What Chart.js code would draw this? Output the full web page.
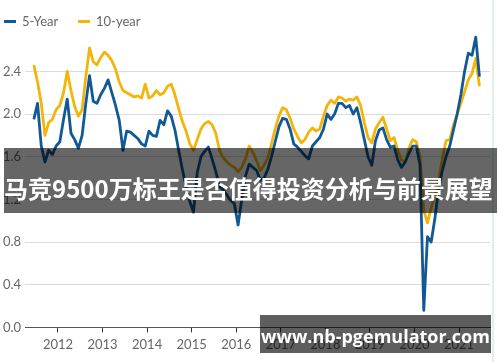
<!DOCTYPE html>
<html>
<head>
<meta charset="utf-8">
<script src="https://cdn.jsdelivr.net/npm/chart.js@4.4.0/dist/chart.umd.min.js"></script>
<style>
  body { margin: 0; background: #fff; }
  #wrap { position: relative; width: 500px; height: 362px; overflow: hidden; background: #fff; }
  #chart { position: absolute; left: 0; top: 0; }
  .legend { position: absolute; top: 13px; left: 0; font: 13px Lato, sans-serif; color: #666; }
  .legend span.item { position: absolute; white-space: nowrap; line-height: 16px; }
  .legend i { position: absolute; top: 7px; height: 3px; width: 12px; }
  .edge { position: absolute; left: 492px; top: 0; width: 2px; height: 362px; background: #e2f1e5; }
  .banner { position: absolute; left: 4px; top: 148px; width: 493px; height: 65px; background: rgba(0,0,0,0.6); }
  .banner span { position: absolute; left: 0; top: 22px; line-height: 25px; font: bold 24px "Noto Sans CJK SC", sans-serif; color: #fff; white-space: nowrap; }
  .mark { position: absolute; left: 260px; top: 315px; width: 231px; height: 38px; background: rgba(0,0,0,0.63);
          color: #fff; font: bold 18px "Open Sans", sans-serif; text-align: center; line-height: 42px; }
</style>
</head>
<body>
<div id="wrap">
  <canvas id="chart" width="500" height="362"></canvas>
  <div class="legend" id="legend"></div>
  <div class="edge"></div>
  <div class="banner"><span>马竞9500万标王是否值得投资分析与前景展望</span></div>
  <div class="mark">www.nb-pgemulator.com</div>
</div>
<script>
const months = [
  '2011-06','2011-07','2011-08','2011-09','2011-10','2011-11','2011-12',
  '2012-01','2012-02','2012-03','2012-04','2012-05','2012-06','2012-07','2012-08','2012-09','2012-10','2012-11','2012-12',
  '2013-01','2013-02','2013-03','2013-04','2013-05','2013-06','2013-07','2013-08','2013-09','2013-10','2013-11','2013-12',
  '2014-01','2014-02','2014-03','2014-04','2014-05','2014-06','2014-07','2014-08','2014-09','2014-10','2014-11','2014-12',
  '2015-01','2015-02','2015-03','2015-04','2015-05','2015-06','2015-07','2015-08','2015-09','2015-10','2015-11','2015-12',
  '2016-01','2016-02','2016-03','2016-04','2016-05','2016-06','2016-07','2016-08','2016-09','2016-10','2016-11','2016-12',
  '2017-01','2017-02','2017-03','2017-04','2017-05','2017-06','2017-07','2017-08','2017-09','2017-10','2017-11','2017-12',
  '2018-01','2018-02','2018-03','2018-04','2018-05','2018-06','2018-07','2018-08','2018-09','2018-10','2018-11','2018-12',
  '2019-01','2019-02','2019-03','2019-04','2019-05','2019-06','2019-07','2019-08','2019-09','2019-10','2019-11','2019-12',
  '2020-01','2020-02','2020-03','2020-04','2020-05','2020-06','2020-07','2020-08','2020-09','2020-10','2020-11','2020-12',
  '2021-01','2021-02','2021-03','2021-04','2021-05','2021-06'
];

const fiveYear = [
  1.95,2.10,1.70,1.55,1.66,1.62,1.70,1.74,1.95,2.14,
  1.82,1.76,1.68,1.80,2.10,2.36,2.12,2.10,2.18,2.24,
  2.32,2.20,2.08,1.94,1.66,1.84,1.83,1.80,1.77,1.72,
  1.70,1.84,1.80,1.79,1.94,1.90,2.03,1.98,1.85,1.66,
  1.48,1.32,1.18,1.08,1.45,1.60,1.65,1.69,1.58,1.46,
  1.32,1.29,1.24,1.19,1.16,0.96,1.20,1.42,1.53,1.50,
  1.47,1.38,1.40,1.48,1.60,1.74,1.88,1.96,1.95,1.86,
  1.72,1.69,1.65,1.61,1.58,1.70,1.74,1.78,1.86,2.00,
  1.95,2.00,2.10,2.10,2.06,2.08,2.00,2.06,1.92,1.76,
  1.60,1.52,1.75,1.85,1.87,1.76,1.69,1.70,1.57,1.50,
  1.55,1.63,1.70,1.70,1.52,0.16,0.85,0.80,1.02,1.30,
  1.47,1.60,1.70,1.85,2.00,2.18,2.40,2.57,2.55,2.72,
  2.35
];

const tenYear = [
  2.46,2.30,2.10,1.80,1.92,1.95,2.04,2.08,2.20,2.40,
  2.22,2.07,1.98,2.04,2.35,2.62,2.49,2.46,2.53,2.58,
  2.55,2.50,2.42,2.30,2.22,2.20,2.18,2.16,2.17,2.15,
  2.28,2.15,2.17,2.22,2.18,2.20,2.26,2.28,2.18,2.05,
  1.93,1.84,1.72,1.66,1.76,1.86,1.91,1.93,1.90,1.82,
  1.66,1.59,1.55,1.52,1.50,1.46,1.50,1.58,1.70,1.64,
  1.56,1.47,1.52,1.59,1.72,1.86,1.98,2.06,2.04,1.96,
  1.86,1.79,1.73,1.76,1.83,1.87,1.84,1.86,1.98,2.08,
  2.13,2.10,2.16,2.15,2.12,2.14,2.13,2.16,2.08,1.92,
  1.78,1.73,1.86,1.92,1.97,1.86,1.75,1.78,1.66,1.57,
  1.55,1.68,1.76,1.74,1.60,1.10,0.98,1.12,1.24,1.38,
  1.58,1.75,1.76,1.90,2.00,2.10,2.21,2.32,2.38,2.52,
  2.26
];

const seriesNames = ['5-Year', '10-year'];
const seriesColors = ['#105995', '#f4b50a'];
const xTicks = [2012, 2013, 2014, 2015, 2016, 2017, 2018, 2019, 2020, 2021];
const yTicks = [0, 0.4, 0.8, 1.2, 1.6, 2.0, 2.4];

// month string -> decimal year (mid month)
function toYear(m) {
  const [y, mo] = m.split('-').map(Number);
  return y + (mo - 0.5) / 12;
}
function points(vals) {
  return vals.map((v, i) => ({ x: toYear(months[i]), y: v }));
}

// legend
const legend = document.getElementById('legend');
const legendX = [[4, 22], [78, 96]];
seriesNames.forEach((name, i) => {
  const it = document.createElement('span');
  it.className = 'item';
  it.style.left = legendX[i][1] + 'px';
  it.textContent = name;
  const bar = document.createElement('i');
  bar.style.left = legendX[i][0] + 'px';
  bar.style.background = seriesColors[i];
  legend.appendChild(bar);
  legend.appendChild(it);
});

const axisFont = { family: 'Lato', size: 13 };

new Chart(document.getElementById('chart'), {
  type: 'line',
  data: {
    datasets: [
      { label: seriesNames[0], data: points(fiveYear), borderColor: seriesColors[0], backgroundColor: seriesColors[0] },
      { label: seriesNames[1], data: points(tenYear), borderColor: seriesColors[1], backgroundColor: seriesColors[1] }
    ]
  },
  options: {
    responsive: false,
    animation: false,
    devicePixelRatio: 1,
    layout: { padding: { left: 3, right: 10, top: 34, bottom: 4 } },
    elements: {
      line: { borderWidth: 2.8, tension: 0, borderJoinStyle: 'round' },
      point: { radius: 0 }
    },
    plugins: { legend: { display: false }, tooltip: { enabled: false } },
    scales: {
      x: {
        type: 'linear',
        min: 2011.26,
        max: 2021.695,
        afterBuildTicks: axis => { axis.ticks = xTicks.map(v => ({ value: v })); },
        ticks: { callback: v => String(v), color: '#666', font: axisFont, padding: 5, maxRotation: 0, autoSkip: false },
        grid: { drawOnChartArea: false, drawTicks: true, tickLength: 5, color: '#333' },
        border: { display: true, color: '#555', width: 1 }
      },
      y: {
        min: 0,
        max: 2.75,
        afterBuildTicks: axis => { axis.ticks = yTicks.map(v => ({ value: v })); },
        afterFit: axis => { axis.width = 22; },
        ticks: { callback: v => v.toFixed(1), color: '#666', font: axisFont, crossAlign: 'far' },
        grid: { drawTicks: false, color: '#dcdcdc' },
        border: { display: false }
      }
    }
  }
});
</script>
</body>
</html>
